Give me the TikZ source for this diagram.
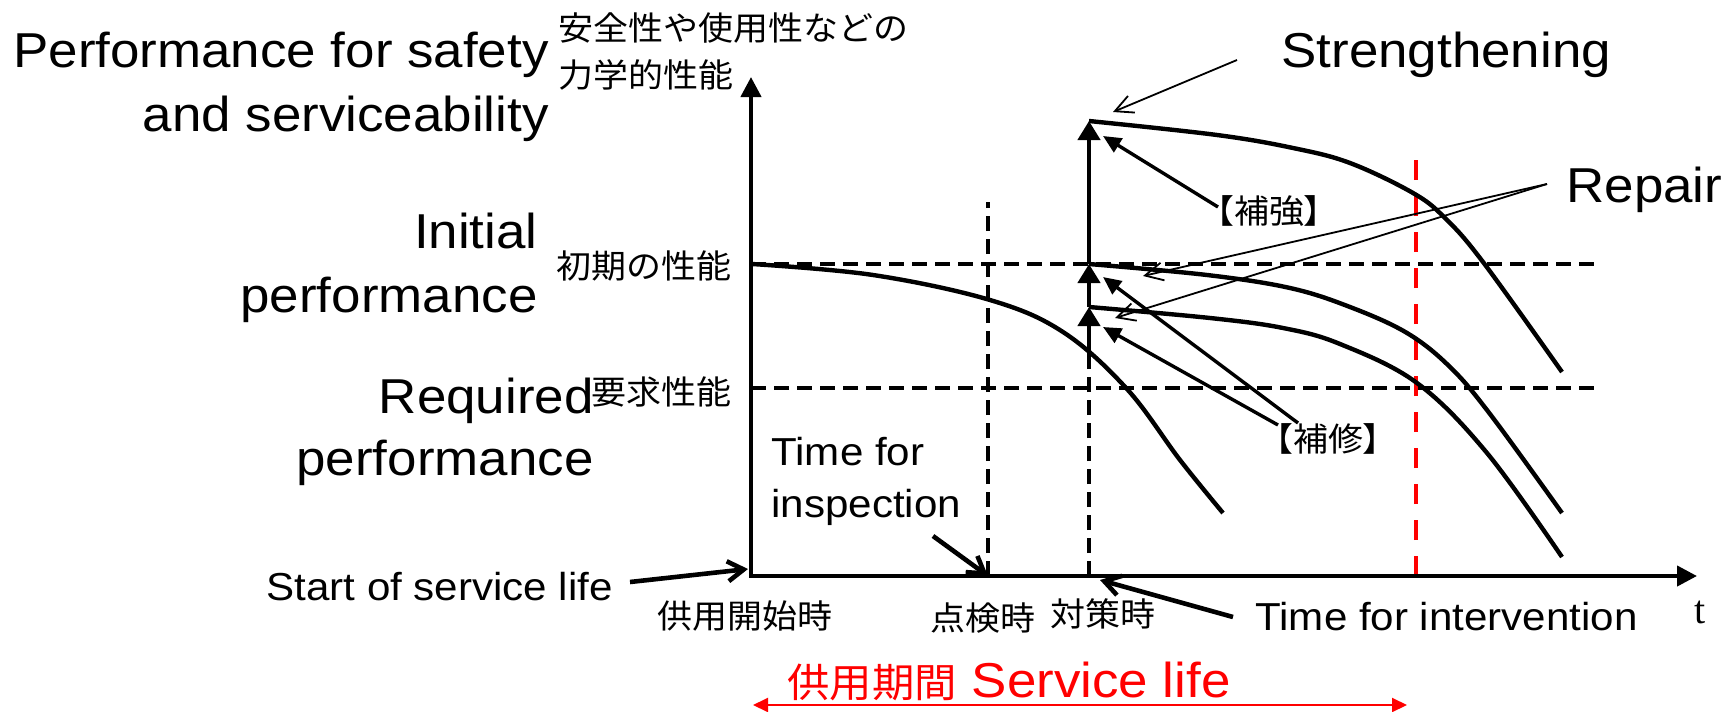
\documentclass[tikz,border=0pt]{standalone}
\usepackage{fontspec}
\setmainfont{Liberation Sans}[FakeStretch=1.08]
\newfontfamily\jp{Noto Sans CJK JP}[FakeStretch=1.06]
\newfontfamily\seriffont{Liberation Serif}
\usetikzlibrary{arrows.meta}
\begin{document}
\begin{tikzpicture}[x=0.5pt,y=-0.5pt,
  big/.style={font=\fontsize{24.5}{30}\selectfont, inner sep=0pt},
  mid/.style={font=\fontsize{19.5}{24}\selectfont, inner sep=0pt},
  jlab/.style={font=\jp\fontsize{16.5}{20}\selectfont, inner sep=0pt},
  axisline/.style={line width=2.1pt, line join=miter, {Triangle[length=10pt,width=10pt]}-{Triangle[length=10pt,width=10pt]}},
  dashln/.style={line width=1.9pt, dash pattern=on 7.5pt off 4pt},
  reddashln/.style={line width=2.3pt, red, dash pattern=on 10pt off 8pt},
  crv/.style={line width=2.2pt, line join=round},
  uparr/.style={line width=2.2pt, -{Triangle[length=9.5pt,width=11pt]}},
  thinco/.style={line width=0.9pt, -{Straight Barb[length=9pt,width=9pt]}},
  thickco/.style={line width=2.3pt, -{Straight Barb[length=8pt,width=10pt]}},
  fillco/.style={line width=1.7pt, -{Triangle[length=9pt,width=8pt]}},
  redarr/.style={line width=1pt, red, {Triangle[length=7.5pt,width=7pt]}-{Triangle[length=7.5pt,width=7pt]}}
]
\useasboundingbox (0,0) rectangle (1731,712);

% texts
\node[big, anchor=base east] (perf1) at (549,67) {Performance for safety};
\node[big, anchor=base east] (perf2) at (549,131) {and serviceability};
\node[jlab, anchor=west] (jy1) at (558,28) {安全性や使用性などの};
\node[jlab, anchor=west] (jy2) at (558,75) {力学的性能};
\node[big, anchor=base east] (init1) at (538,248) {Initial};
\node[big, anchor=base east] (init2) at (538,312) {performance};
\node[jlab, anchor=east] (jinit) at (732,266) {初期の性能};
\node[big, anchor=base east] (req1) at (594,413) {Required};
\node[big, anchor=base east] (req2) at (594,475) {performance};
\node[jlab, anchor=east] (jreq) at (732,392) {要求性能};
\node[mid, anchor=base west] (tfi1) at (771,465) {Time for};
\node[mid, anchor=base west] (tfi2) at (771,517) {inspection};
\node[mid, anchor=base west] (start) at (266,600) {Start of service life};
\node[jlab, anchor=west] (j0) at (657,616) {供用開始時};
\node[jlab, anchor=west] (jinsp) at (930,618) {点検時};
\node[jlab, anchor=west] (jint) at (1050,614) {対策時};
\node[mid, anchor=base west] (tint) at (1255,630) {Time for intervention};
\node[font=\seriffont\fontsize{20}{24}\selectfont, inner sep=0pt] (tlab) at (1700,612) {t};
\node[big, anchor=base west] (str) at (1281,68) {Strengthening};
\node[big, anchor=base west] (rep) at (1566,202) {Repair};
\node[jlab] (hk) at (1269,211) {【補強】};
\node[jlab] (hs) at (1328,439) {【補修】};
\node[big, red, anchor=base west] (svc) at (787,697) {{\jp\fontsize{20}{24}\selectfont 供用期間} Service life};

% key coordinates
\coordinate (O) at (751,576);
\coordinate (ytop) at (751,77);
\coordinate (xend) at (1697,576);
\coordinate (iniL) at (751,264);
\coordinate (iniR) at (1597,264);
\coordinate (reqL) at (751,388);
\coordinate (reqR) at (1597,388);
\coordinate (inspB) at (988,576);
\coordinate (inspT) at (988,202);
\coordinate (intB) at (1089,576);
\coordinate (intS) at (1089,365);
\coordinate (p1) at (1089,307);
\coordinate (p2) at (1089,264);
\coordinate (p3) at (1089,121);
\coordinate (redB) at (1416,576);
\coordinate (redT) at (1416,149);

% dashed guides
\draw[dashln] (iniL) -- (iniR);
\draw[dashln] (reqL) -- (reqR);
\draw[dashln] (inspB) -- (inspT);
\draw[dashln] (intB) -- (intS);
\draw[reddashln] (redB) -- (redT);

% axes
\draw[axisline] (ytop) -- (O) -- (xend);

% curves
\draw[crv] plot[smooth, tension=0.6] coordinates {(752,264) (873,275) (990,300) (1063,332) (1127,389) (1180,460) (1223,513)};
\draw[crv] plot[smooth, tension=0.6] coordinates {(1089,264) (1207,275) (1290,288) (1350,307) (1407,333) (1450,367) (1490,414) (1562,513)};
\draw[crv] plot[smooth, tension=0.6] coordinates {(1089,307) (1210,318) (1283,328) (1340,344) (1417,383) (1487,453) (1562,557)};
\draw[crv] plot[smooth, tension=0.6] coordinates {(1089,121) (1217,135) (1293,148) (1350,163) (1413,193) (1445,218) (1483,262) (1562,372)};

% vertical intervention arrows
\draw[uparr] (intS) -- (p1);
\draw[uparr] (p1) -- (p2);
\draw[uparr] (p2) -- (p3);

% callouts
\coordinate (strS) at (1237,60);
\coordinate (strT) at (1113,112);
\draw[thinco] (strS) -- (strT);
\coordinate (repS) at (1547,184);
\coordinate (repT1) at (1143,276);
\coordinate (repT2) at (1115,318);
\draw[thinco] (repS) -- (repT1);
\draw[thinco] (repS) -- (repT2);
\coordinate (hkS) at (1218,207);
\coordinate (hkT) at (1103,136);
\draw[fillco] (hkS) -- (hkT);
\coordinate (hsS1) at (1298,423);
\coordinate (hsT1) at (1103,277);
\coordinate (hsS2) at (1278,425);
\coordinate (hsT2) at (1103,327);
\draw[fillco] (hsS1) -- (hsT1);
\draw[fillco] (hsS2) -- (hsT2);
\coordinate (stS) at (630,582);
\coordinate (stT) at (748,569);
\draw[thickco] (stS) -- (stT);
\coordinate (tiS) at (933,536);
\coordinate (tiT) at (988,576);
\draw[thickco] (tiS) -- (tiT);
\coordinate (tvS) at (1233,617);
\coordinate (tvT) at (1100,580);
\draw[thickco] (tvS) -- (tvT);

% service life arrow
\coordinate (slL) at (753,705);
\coordinate (slR) at (1407,705);
\draw[redarr] (slL) -- (slR);
\end{tikzpicture}
\end{document}
